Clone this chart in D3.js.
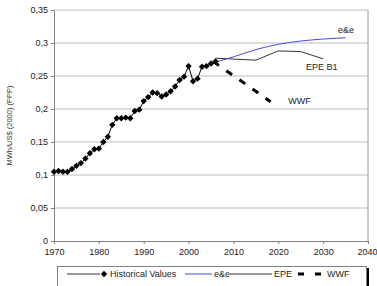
<!DOCTYPE html>
<html>
<head>
<meta charset="utf-8">
<script src="https://cdn.jsdelivr.net/npm/d3@7"></script>
<style>
  body { margin: 0; background: #fff; }
  svg { display: block; font-family: "Liberation Sans", Arial, sans-serif; }
</style>
</head>
<body>
<svg id="chart" width="377" height="286"></svg>
<script>
// historical values 1970-2006
const histYears = d3.range(1970, 2007);
const histValues = [
  0.105, 0.106, 0.105, 0.105, 0.109, 0.114, 0.118, 0.125, 0.133, 0.139,
  0.140, 0.150, 0.158, 0.176, 0.186, 0.186, 0.187, 0.186, 0.197, 0.199,
  0.212, 0.218, 0.225, 0.224, 0.219, 0.222, 0.227, 0.234, 0.244, 0.249,
  0.265, 0.242, 0.246, 0.264, 0.265, 0.269, 0.272
];

const eeYears = [2006, 2010, 2015, 2020, 2025, 2030, 2035];
const eeValues = [0.271, 0.279, 0.290, 0.298, 0.303, 0.306, 0.308];

const epeYears = [2006, 2015, 2020, 2025, 2030];
const epeValues = [0.277, 0.274, 0.288, 0.287, 0.276];

const wwfYears = [2005.5, 2018.3];
const wwfValues = [0.272, 0.211];

const xTicks = [1970, 1980, 1990, 2000, 2010, 2020, 2030, 2040];
const yTicks = [0, 0.05, 0.1, 0.15, 0.2, 0.25, 0.3, 0.35];

const margin = { left: 54, right: 9, top: 10, bottom: 45 };
const width = 377 - margin.left - margin.right;
const height = 286 - margin.top - margin.bottom;

const svg = d3.select("#chart");
const g = svg.append("g")
  .attr("transform", "translate(" + margin.left + "," + margin.top + ")");

const x = d3.scaleLinear().domain([1970, 2040]).range([0, width]);
const y = d3.scaleLinear().domain([0, 0.35]).range([height, 0]);

// gridlines
g.selectAll(".grid")
  .data(yTicks.slice(1))
  .enter()
  .append("line")
  .attr("x1", 0).attr("x2", width)
  .attr("y1", d => y(d)).attr("y2", d => y(d))
  .attr("stroke", "#bdbdbd").attr("stroke-width", 1);

// right border
g.append("line")
  .attr("x1", width).attr("x2", width)
  .attr("y1", 0).attr("y2", height)
  .attr("stroke", "#9a9a9a");

const fmt = d => String(d).replace(".", ",");

const yAxis = g.append("g")
  .call(d3.axisLeft(y).tickValues(yTicks).tickFormat(fmt).tickSize(3).tickSizeOuter(0));
const xAxis = g.append("g")
  .attr("transform", "translate(0," + height + ")")
  .call(d3.axisBottom(x).tickValues(xTicks).tickFormat(d3.format("d")).tickSize(3).tickSizeOuter(0));

[yAxis, xAxis].forEach(a => {
  a.select(".domain").attr("stroke", "#808080");
  a.selectAll(".tick line").attr("stroke", "#808080");
  a.selectAll("text").attr("fill", "#222").style("font-size", "9px")
    .style("font-family", "'Liberation Sans', Arial, sans-serif");
});
xAxis.selectAll("text").attr("dy", "0.85em");
// keep the last year inside the frame
xAxis.selectAll("text").filter(d => d === 2040)
  .attr("text-anchor", "end").attr("x", 9);

// y label
svg.append("text")
  .attr("transform", "translate(12," + (margin.top + height / 2) + ") rotate(-90)")
  .attr("text-anchor", "middle")
  .style("font-size", "7.5px")
  .attr("fill", "#333")
  .text("MWh/US$ (2000) (PPP)");

const line = d3.line().x(d => x(d[0])).y(d => y(d[1]));

// series
g.append("path")
  .datum(d3.zip(epeYears, epeValues))
  .attr("d", line).attr("fill", "none")
  .attr("stroke", "#333").attr("stroke-width", 1);

g.append("path")
  .datum(d3.zip(wwfYears, wwfValues))
  .attr("d", line).attr("fill", "none")
  .attr("stroke", "#000").attr("stroke-width", 3)
  .attr("stroke-dasharray", "7,9");

g.append("path")
  .datum(d3.zip(eeYears, eeValues))
  .attr("d", d3.line().curve(d3.curveMonotoneX).x(d => x(d[0])).y(d => y(d[1])))
  .attr("fill", "none")
  .attr("stroke", "#4a4ad8").attr("stroke-width", 1);

const hist = d3.zip(histYears, histValues);
g.append("path")
  .datum(hist)
  .attr("d", line).attr("fill", "none")
  .attr("stroke", "#000").attr("stroke-width", 1);

const diamond = "M0,-3.2L3.2,0L0,3.2L-3.2,0Z";
g.selectAll(".pt")
  .data(hist)
  .enter()
  .append("path")
  .attr("d", diamond)
  .attr("transform", d => "translate(" + x(d[0]) + "," + y(d[1]) + ")")
  .attr("fill", "#000");

// series labels
const labels = [
  { t: "e&e", yr: 2033.3, v: 0.315 },
  { t: "EPE B1", yr: 2026.2, v: 0.259 },
  { t: "WWF", yr: 2022.2, v: 0.207 }
];
g.selectAll(".lbl")
  .data(labels)
  .enter()
  .append("text")
  .attr("x", d => x(d.yr)).attr("y", d => y(d.v))
  .style("font-size", "9px").attr("fill", "#222")
  .text(d => d.t);

// legend
const leg = svg.append("g");
leg.append("line").attr("x1", 368).attr("x2", 368).attr("y1", 268).attr("y2", 286)
  .attr("stroke", "#000").attr("stroke-width", 2);
leg.append("rect")
  .attr("x", 57.5).attr("y", 266.5).attr("width", 309).attr("height", 22)
  .attr("fill", "#fff").attr("stroke", "#808080");

const ly = 274;
const legItems = [
  { t: "Historical Values", x1: 67, x2: 100, tx: 110, kind: "hist" },
  { t: "e&e", x1: 185, x2: 212, tx: 214, kind: "ee" },
  { t: "EPE", x1: 230, x2: 272, tx: 274, kind: "epe" },
  { t: "WWF", x1: 298, x2: 321, tx: 327, kind: "wwf" }
];
legItems.forEach(it => {
  if (it.kind === "wwf") {
    leg.append("line").attr("x1", it.x1).attr("x2", it.x2).attr("y1", ly).attr("y2", ly)
      .attr("stroke", "#000").attr("stroke-width", 3).attr("stroke-dasharray", "6,11");
  } else {
    leg.append("line").attr("x1", it.x1).attr("x2", it.x2).attr("y1", ly).attr("y2", ly)
      .attr("stroke", it.kind === "ee" ? "#4a4ad8" : "#333").attr("stroke-width", 1);
  }
  if (it.kind === "hist") {
    leg.append("path").attr("d", diamond).attr("transform", "translate(104," + ly + ")").attr("fill", "#000");
  }
  leg.append("text").attr("x", it.tx).attr("y", ly + 3)
    .style("font-size", "9px").attr("fill", "#222").text(it.t);
});
</script>
</body>
</html>
